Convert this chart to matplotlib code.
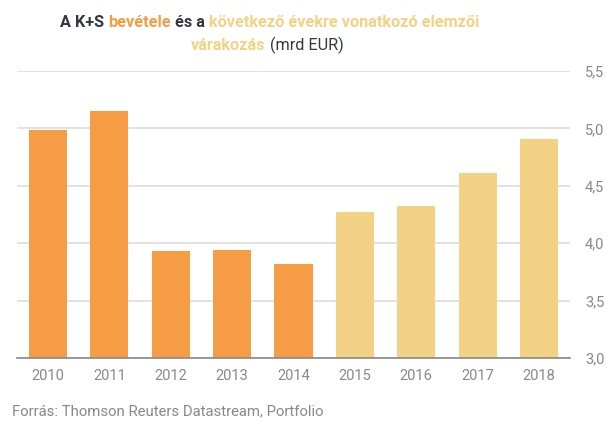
import matplotlib
matplotlib.use("Agg")
import matplotlib.pyplot as plt
import numpy as np

plt.rcParams["font.family"] = ["Roboto", "DejaVu Sans"]

years = ["2010", "2011", "2012", "2013", "2014", "2015", "2016", "2017", "2018"]
values = [4.99, 5.15, 3.93, 3.94, 3.82, 4.27, 4.32, 4.61, 4.91]
is_forecast = [False] * 5 + [True] * 4
y_ticks = [3.0, 3.5, 4.0, 4.5, 5.0, 5.5]

orange = "#F59C45"
yellow = "#F3D286"
dark = "#333840"
grey = "#888888"

W, H = 607, 423
fig = plt.figure(figsize=(W / 100, H / 100), dpi=100)
ax = fig.add_axes([17 / W, (H - 358) / H, (570 - 17) / W, (358 - 71) / H])

x = np.arange(len(years))
colors = [yellow if f else orange for f in is_forecast]
ax.bar(x, np.array(values) - 3.0, bottom=3.0, width=0.62, color=colors, zorder=3)

ax.set_xlim(-0.505, len(years) - 0.495)
ax.set_ylim(3.0, 5.5)
ax.set_yticks(y_ticks)
ax.set_yticklabels([f"{v:.1f}".replace(".", ",") for v in y_ticks])
ax.yaxis.tick_right()
ax.set_xticks(x)
ax.set_xticklabels(years)
ax.tick_params(axis="both", length=0, labelsize=10.5, labelcolor=grey)
ax.tick_params(axis="y", pad=10.8)
ax.tick_params(axis="x", pad=8)
ax.grid(axis="y", color="#dddddd", linewidth=1.2, zorder=0)
for s in ["top", "left", "right"]:
    ax.spines[s].set_visible(False)
ax.spines["bottom"].set_color(grey)
ax.spines["bottom"].set_linewidth(1.2)
ax.spines["bottom"].set_zorder(4)


def colored_line(pieces, left, y, size):
    # pieces drawn one after another from a fixed left edge (pixels)
    renderer = fig.canvas.get_renderer()
    for s, c, w in pieces:
        t = fig.text(left / W, y, s, color=c, fontweight=w, fontsize=size,
                     va="baseline")
        left += t.get_window_extent(renderer).width


colored_line(
    [("A K+S ", dark, "bold"), ("bevétele", orange, "bold"), (" és a ", dark, "bold"),
     ("következő évekre vonatkozó elemzői", yellow, "bold")],
    60, (H - 27) / H, 11.7)
colored_line([("várakozás", yellow, "bold"), (" (mrd EUR)", dark, "normal")],
             191, (H - 50) / H, 11.7)

fig.text(12 / W, (H - 415) / H, "Forrás: Thomson Reuters Datastream, Portfolio",
         color=grey, fontsize=10.7, va="baseline")

fig.savefig("out.png", dpi=100)
